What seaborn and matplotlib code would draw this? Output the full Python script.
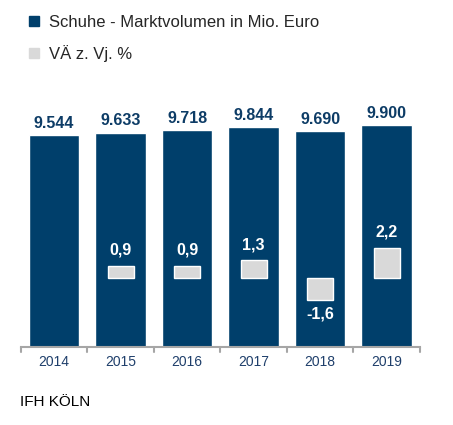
import pandas as pd
import matplotlib.pyplot as plt
import seaborn as sns
from matplotlib.patches import Patch

years = ['2014', '2015', '2016', '2017', '2018', '2019']
volume = [9544, 9633, 9718, 9844, 9690, 9900]
change = [None, 0.9, 0.9, 1.3, -1.6, 2.2]

blue = '#003f6b'
grey = '#d9d9d9'

sns.set_style('white')
plt.rcParams['font.family'] = ['Liberation Sans', 'DejaVu Sans']

df = pd.DataFrame({'year': years, 'volume': volume, 'change': change})

fig = plt.figure(figsize=(4.53, 4.25), dpi=100)
ax = fig.add_axes([0.046, 0.1835, 0.881, 0.5925])
sns.barplot(data=df, x='year', y='volume', color=blue, width=0.76, saturation=1, ax=ax)
ax.set_ylim(2000, 10968)
ax.set_xlim(-0.5, 5.5)

for i, v in enumerate(volume):
    ax.text(i, v + 150, f'{v:,}'.replace(',', '.'), ha='center', va='bottom',
            fontsize=11.5, fontweight='bold', color='#0d3c66')

ax2 = ax.twinx()
sns.barplot(data=df.dropna(), x='year', y='change', color=grey, width=0.39,
            saturation=1, ax=ax2, order=years)
ax2.set_ylim(-5.05, 13.4)
ax2.set_xlim(-0.5, 5.5)
for i, c in enumerate(change):
    if c is None:
        continue
    txt = f'{c:.1f}'.replace('.', ',')
    if c > 0:
        ax2.text(i, c + 0.6, txt, ha='center', va='bottom', fontsize=11.5,
                 fontweight='bold', color='white')
    else:
        ax2.text(i, c - 0.5, txt, ha='center', va='top', fontsize=11.5,
                 fontweight='bold', color='white')

for a in (ax, ax2):
    for s in ['top', 'right', 'left']:
        a.spines[s].set_visible(False)
    a.set_xlabel('')
    a.set_ylabel('')
    a.set_yticks([])
ax2.spines['bottom'].set_visible(False)
ax2.set_xticks([])

ax.spines['bottom'].set_color('#a6a6a6')
ax.spines['bottom'].set_linewidth(1.5)
ax.set_xticks(range(6))
ax.set_xticklabels(years, fontsize=10, color='#1f3f6b')
ax.tick_params(axis='x', length=0, pad=6)
for b in [x - 0.5 for x in range(7)]:
    ax.plot([b, b], [2000, 2000 - 180], color='#a6a6a6', lw=1.5, clip_on=False)

handles = [Patch(color=blue, label='Schuhe - Marktvolumen in Mio. Euro'),
           Patch(color=grey, label='VÄ z. Vj. %')]
fig.legend(handles=handles, loc='upper left', bbox_to_anchor=(0.03, 1.0),
           frameon=False, fontsize=12, handlelength=0.6, handleheight=0.6,
           handletextpad=0.6, labelspacing=0.9)

fig.text(0.045, 0.045, 'IFH KÖLN', fontsize=11, color='black')

fig.savefig('out.png', dpi=100)
